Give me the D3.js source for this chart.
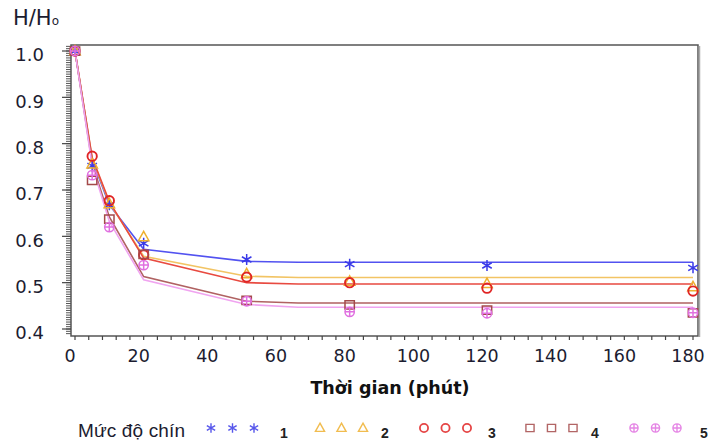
<!DOCTYPE html>
<html><head><meta charset="utf-8">
<script src="https://cdn.jsdelivr.net/npm/d3@7"></script>
<style>body{margin:0;background:#fff}</style>
</head><body>
<svg id="c" width="708" height="441"></svg>
<script>
// ---- data ----
const times    = [0, 5, 10, 20, 50, 80, 120, 180];
const fitTimes = [0, 5, 10, 20, 50, 65, 180];
const seriesNames = ["1", "2", "3", "4", "5"];
const obs1 = [1.0, 0.752, 0.668, 0.585, 0.550, 0.540, 0.537, 0.532];
const obs2 = [1.0, 0.756, 0.670, 0.599, 0.519, 0.503, 0.498, 0.491];
const obs3 = [1.0, 0.773, 0.677, 0.560, 0.512, 0.500, 0.488, 0.482];
const obs4 = [1.0, 0.721, 0.637, 0.561, 0.462, 0.452, 0.441, 0.435];
const obs5 = [1.0, 0.732, 0.620, 0.538, 0.460, 0.437, 0.434, 0.435];
const fit1 = [1.0, 0.765, 0.668, 0.572, 0.546, 0.544, 0.544];
const fit2 = [1.0, 0.768, 0.672, 0.557, 0.514, 0.511, 0.511];
const fit3 = [1.0, 0.770, 0.675, 0.553, 0.500, 0.497, 0.497];
const fit4 = [1.0, 0.757, 0.642, 0.513, 0.460, 0.456, 0.456];
const fit5 = [1.0, 0.752, 0.632, 0.506, 0.453, 0.447, 0.447];
const xTickValues = [0, 20, 40, 60, 80, 100, 120, 140, 160, 180];
const yTickValues = [0.4, 0.5, 0.6, 0.7, 0.8, 0.9, 1.0];
const yAxisTitle = "H/H";
const yAxisSub = "o";
const xAxisTitle = "Thời gian (phút)";
const legendTitle = "Mức độ chín";

const observed = [obs1, obs2, obs3, obs4, obs5];
const fitted = [fit1, fit2, fit3, fit4, fit5];
const markerColors = ["#3a3ae8", "#eeb030", "#e02424", "#a44a4a", "#e070e0"];
const lineColors   = ["#5252f0", "#f2c464", "#e84a40", "#b06262", "#f0a4f0"];
const shapes = ["star", "triangle", "circle", "square", "circleplus"];

// ---- layout ----
const svg = d3.select("#c");
const frame = {l: 71, r: 698, t: 45, b: 336};
const x = d3.scaleLinear().domain([0, 180]).range([75, 693]);
const y = d3.scaleLinear().domain([0.4, 1.0]).range([329, 51]);

function markerPath(shape, r) {
  const p = d3.path();
  if (shape === "star") {
    for (let k = 0; k < 3; k++) {
      const a = Math.PI / 2 + k * Math.PI / 3;
      p.moveTo(r * Math.cos(a), r * Math.sin(a));
      p.lineTo(-r * Math.cos(a), -r * Math.sin(a));
    }
  } else if (shape === "triangle") {
    p.moveTo(0, -r); p.lineTo(r * 0.95, r * 0.7); p.lineTo(-r * 0.95, r * 0.7); p.closePath();
  } else if (shape === "circle") {
    p.arc(0, 0, r * 0.85, 0, 2 * Math.PI);
  } else if (shape === "square") {
    p.rect(-r * 0.85, -r * 0.75, r * 1.7, r * 1.5);
  } else {
    p.arc(0, 0, r * 0.85, 0, 2 * Math.PI);
    p.moveTo(-r * 0.85, 0); p.lineTo(r * 0.85, 0);
    p.moveTo(0, -r * 0.85); p.lineTo(0, r * 0.85);
  }
  return p.toString();
}

// frame
svg.append("rect").attr("x", frame.l).attr("y", frame.t)
  .attr("width", frame.r - frame.l).attr("height", frame.b - frame.t)
  .attr("fill", "#fff").attr("stroke", "#555").attr("stroke-width", 1.5);
svg.append("line").attr("x1", frame.r + 1.5).attr("x2", frame.r + 1.5)
  .attr("y1", frame.t + 1).attr("y2", frame.b + 1)
  .attr("stroke", "#aaa").attr("stroke-width", 1.5);

// y minor/major ticks
const yMinor = d3.range(0.39, 1.0101, 0.005);
svg.append("g").selectAll("line").data(yMinor).join("line")
  .attr("x1", frame.l - 5).attr("x2", frame.l)
  .attr("y1", d => y(d)).attr("y2", d => y(d))
  .attr("stroke", "#555").attr("stroke-width", 1);
svg.append("g").selectAll("line").data(yTickValues).join("line")
  .attr("x1", frame.l - 9).attr("x2", frame.l)
  .attr("y1", d => y(d)).attr("y2", d => y(d))
  .attr("stroke", "#444").attr("stroke-width", 1.2);
// x ticks
const xMinor = d3.range(0, 181, 4);
svg.append("g").selectAll("line").data(xMinor).join("line")
  .attr("x1", d => x(d)).attr("x2", d => x(d))
  .attr("y1", frame.b).attr("y2", frame.b + 4)
  .attr("stroke", "#444").attr("stroke-width", 1.2);

// tick labels
const lblFont = "DejaVu Sans, Verdana, sans-serif";
svg.append("g").selectAll("text").data(yTickValues).join("text")
  .attr("x", 44).attr("y", d => y(d) + 4).attr("dy", "0.36em")
  .attr("text-anchor", "end").attr("font-family", lblFont).attr("font-size", 18)
  .attr("fill", "#1c1c30").text(d => d.toFixed(1));
svg.append("g").selectAll("text").data(xTickValues).join("text")
  .attr("x", d => x(d) - 5).attr("y", 362)
  .attr("text-anchor", "middle").attr("font-family", lblFont).attr("font-size", 17.5)
  .attr("fill", "#1c1c30").text(d => d);

// axis titles
const yt = svg.append("text").attr("x", 13).attr("y", 25)
  .attr("font-family", lblFont).attr("font-size", 21).attr("fill", "#1c1c30");
yt.append("tspan").text(yAxisTitle);
yt.append("tspan").attr("font-size", 12).attr("dy", 0).text(yAxisSub);
svg.append("text").attr("x", 390).attr("y", 394).attr("text-anchor", "middle")
  .attr("font-family", lblFont).attr("font-weight", "bold").attr("font-size", 17.5)
  .attr("fill", "#111").text(xAxisTitle);

// fitted lines
const line = d3.line().x((d, i) => x(fitTimes[i])).y(d => y(d));
svg.append("g").selectAll("path").data(fitted).join("path")
  .attr("d", d => line(d)).attr("fill", "none")
  .attr("stroke", (d, i) => lineColors[i]).attr("stroke-width", 1.6);

// observed markers
observed.forEach((vals, si) => {
  svg.append("g").selectAll("path").data(vals).join("path")
    .attr("transform", (d, i) => `translate(${x(times[i])},${y(d)})`)
    .attr("d", markerPath(shapes[si], 5.5))
    .attr("fill", "none").attr("stroke", markerColors[si])
    .attr("stroke-width", si === 2 ? 1.9 : 1.5);
});

// legend
svg.append("text").attr("x", 78).attr("y", 437)
  .attr("font-family", "Liberation Sans, Arial, sans-serif").attr("font-size", 19)
  .attr("textLength", 107).attr("fill", "#1c1c30").text(legendTitle);
const legStart = [211, 320, 424, 530, 634];
const legNum = [284, 385, 492, 595, 704];
seriesNames.forEach((name, si) => {
  [0, 1, 2].forEach(k => {
    svg.append("path")
      .attr("transform", `translate(${legStart[si] + k * 21.5},428)`)
      .attr("d", markerPath(shapes[si], 4.8))
      .attr("fill", "none").attr("stroke", markerColors[si])
      .attr("stroke-width", si === 2 ? 1.8 : 1.4).attr("opacity", 0.85);
  });
  svg.append("text").attr("x", legNum[si]).attr("y", 437.5).attr("text-anchor", "middle")
    .attr("font-family", "Liberation Sans, Arial, sans-serif").attr("font-weight", "bold")
    .attr("font-size", 14).attr("fill", "#222").text(name);
});
</script>
</body></html>
